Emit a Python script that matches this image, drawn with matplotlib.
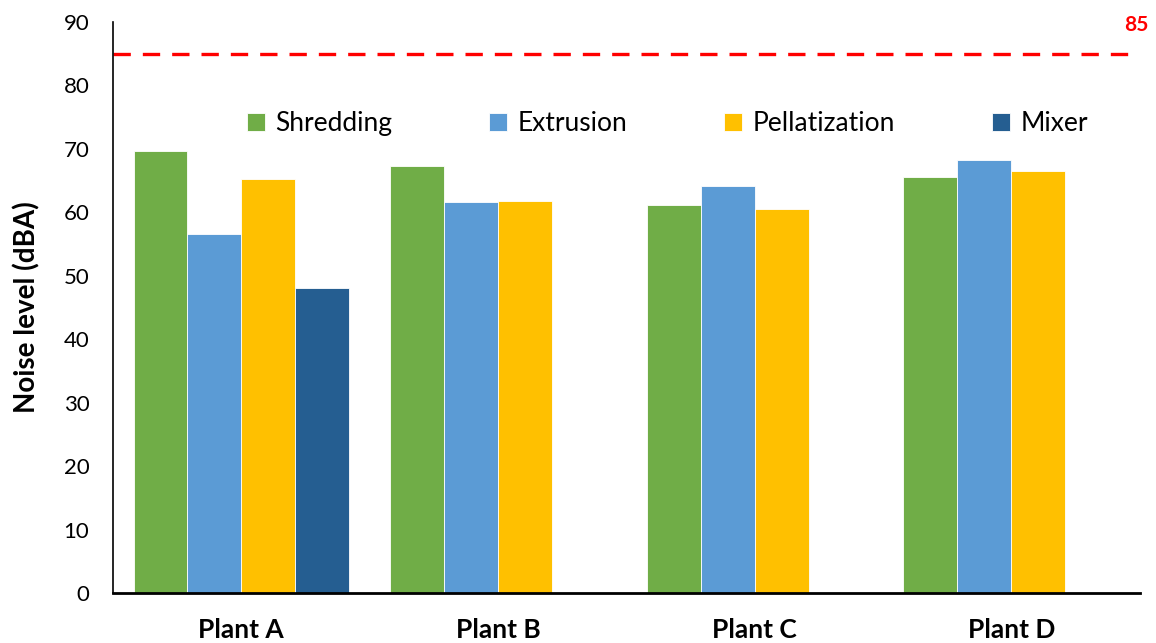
import numpy as np
import matplotlib
matplotlib.use("Agg")
import matplotlib.pyplot as plt

plt.rcParams['font.family'] = ['Lato', 'DejaVu Sans']

# data
plants = ['Plant A', 'Plant B', 'Plant C', 'Plant D']
shredding = [69.6, 67.3, 61.2, 65.6]
extrusion = [56.6, 61.7, 64.2, 68.2]
pellatization = [65.2, 61.8, 60.6, 66.5]
mixer = [48.1, np.nan, np.nan, np.nan]
limit = 85

series = [('Shredding', shredding, '#70AD47'),
          ('Extrusion', extrusion, '#5B9BD5'),
          ('Pellatization', pellatization, '#FFC000'),
          ('Mixer', mixer, '#255E91')]

fig = plt.figure(figsize=(11.56, 6.43), dpi=100)
ax = fig.add_axes([0.0978, 0.0778, 0.888, 0.888])

x = np.arange(len(plants))
w = 0.21
for i, (name, vals, col) in enumerate(series):
    ax.bar(x + (i - 1.5) * w, vals, w, color=col, label=name,
           edgecolor='white', linewidth=0.6)

# limit line
ax.axhline(limit, color='#FF0000', lw=2.4, dashes=(5.2, 3.6))
ax.text(3.488, 89.5, str(limit), color='#FF0000', fontsize=15,
        fontweight='bold', ha='center', va='center', clip_on=False)

ax.set_xlim(-0.5, 3.5)
ax.set_ylim(0, 90)
ax.set_yticks(np.arange(0, 91, 10))
ax.set_xticks(x)
ax.set_xticklabels(plants, fontsize=19, fontweight='bold')
ax.tick_params(axis='y', length=0, pad=17, labelsize=16)
ax.tick_params(axis='x', length=0, pad=18)
ax.set_ylabel('Noise level (dBA)', fontsize=20, fontweight='bold', labelpad=17)

for s in ['top', 'right']:
    ax.spines[s].set_visible(False)
ax.spines['left'].set_linewidth(1.2)
ax.spines['bottom'].set_linewidth(2)

ax.legend(loc='center', bbox_to_anchor=(0.54, 0.822), ncol=4, frameon=False,
          fontsize=19, handlelength=0.7, handleheight=0.7, handletextpad=0.4,
          columnspacing=3.65)

fig.savefig('out.png', dpi=100)
